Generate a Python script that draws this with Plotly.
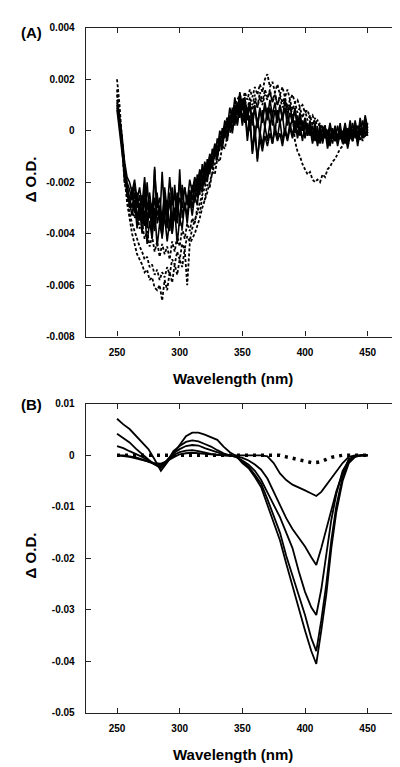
import plotly.graph_objects as go

W, H = 400, 767

# ---------------- Panel (A) data : wavelength (nm) and ΔO.D. in units of 1e-4 ----------------
A_SCALE = 1e-4
wl_a = list(range(250, 452, 2))

a_solid_1 = [12, 6, -2, -12, -18, -20, -24, -19, -27, -22,
             -29, -18, -31, -24, -33, -15, -30, -26, -35, -22,
             -31, -18, -29, -25, -32, -20, -27, -22, -28, -19,
             -24, -18, -22, -15, -19, -13, -16, -10, -12, -6,
             -9, -3, -5, 2, -1, 5, 3, 10, 6, 14,
             8, 12, 4, 10, 2, 9, 1, 8, 3, 10,
             4, 9, 2, 8, 3, 10, 4, 9, 2, 7,
             3, 8, 1, 6, 0, 5, -1, 3, -3, 2,
             -4, 1, -5, 0, -4, 2, -3, 1, -5, 3,
             -4, 2, -3, 4, -2, 3, -3, 5, -1, 6,
             1]
a_solid_2 = [10, 2, -8, -16, -22, -26, -30, -24, -34, -28,
             -36, -26, -38, -30, -40, -14, -36, -32, -42, -28,
             -38, -24, -40, -30, -36, -15, -34, -28, -33, -24,
             -30, -22, -26, -18, -22, -14, -18, -10, -14, -6,
             -10, -2, -5, 2, -2, 6, 0, 8, 3, 12,
             4, 10, -2, 6, -8, 2, -12, 0, -6, 2,
             -4, 3, -5, 2, -3, 4, -4, 1, -3, 3,
             -2, 4, -3, 2, -4, 3, -2, 1, -5, 0,
             -6, -1, -4, 0, -7, -2, -5, 1, -6, -1,
             -5, 0, -7, -2, -4, 1, -6, 0, -3, 2,
             -2]
a_solid_3 = [11, 4, -4, -14, -20, -23, -27, -21, -30, -25,
             -33, -22, -35, -27, -37, -26, -33, -29, -38, -24,
             -34, -27, -36, -21, -33, -26, -30, -22, -29, -23,
             -27, -20, -24, -16, -20, -12, -16, -9, -12, -5,
             -8, 0, -3, 4, 1, 9, 4, 13, 7, 15,
             9, 13, 5, 11, 3, 10, 2, 9, 4, 11,
             5, 12, 6, 11, 4, 10, 5, 12, 6, 10,
             4, 9, 2, 7, 0, 5, -1, 4, -2, 3,
             -3, 2, -4, 1, -2, 3, -3, 2, -4, 1,
             -2, 3, -3, 2, -4, 4, -2, 3, -1, 5,
             0]
a_solid_4 = [8, 0, -10, -18, -25, -28, -33, -27, -38, -30,
             -40, -31, -44, -35, -42, -30, -45, -36, -41, -33,
             -43, -35, -40, -30, -44, -34, -38, -28, -36, -26,
             -33, -25, -29, -20, -24, -16, -20, -12, -15, -8,
             -11, -4, -7, 0, -4, 4, -1, 7, 2, 10,
             2, 8, -4, 4, -9, -1, -11, -3, -8, -2,
             -6, -1, -5, 0, -4, -1, -6, 0, -4, 1,
             -3, 2, -1, 4, 0, 3, -2, 2, -3, 1,
             -4, 0, -2, 2, -5, -1, -3, 1, -2, 0,
             -4, -1, -5, 0, -3, 2, -4, 1, -2, 3,
             -1]
a_solid_5 = [9, 3, -6, -20, -21, -30, -22, -32, -24, -35,
             -25, -37, -20, -34, -28, -39, -24, -36, -16, -33,
             -27, -39, -22, -35, -24, -37, -21, -31, -25, -30,
             -21, -28, -17, -25, -13, -21, -11, -17, -7, -11,
             -3, -7, 1, -3, 5, 0, 9, 2, 11, 5,
             12, 3, 9, 0, 7, -3, 5, -2, 8, 1,
             9, 2, 7, -1, 8, 3, 6, -2, 7, 1,
             5, -1, 6, -2, 4, -3, 3, -2, 2, -4,
             1, -5, 2, -3, 0, -6, 1, -4, 2, -3,
             0, -5, 1, -2, 3, -3, 2, -1, 4, -2,
             3]
a_dash_1 = [20, 10, -4, -18, -28, -34, -40, -44, -48, -50,
            -52, -55, -54, -58, -57, -61, -62, -60, -66, -58,
            -62, -55, -59, -52, -56, -50, -53, -46, -60, -44,
            -42, -40, -37, -34, -30, -27, -24, -20, -16, -13,
            -10, -7, -4, -1, 2, 5, 7, 10, 12, 14,
            11, 15, 12, 16, 13, 17, 14, 18, 15, 20,
            22, 17, 19, 15, 18, 14, 17, 13, 16, 12,
            14, 11, 12, 9, 10, 7, 8, 5, 6, 3,
            4, 1, 2, -1, 0, -3, -1, -4, -2, -3,
            -1, -4, 0, -3, 1, -2, 0, -4, -1, -2,
            -1]
a_dash_2 = [16, 6, -6, -20, -27, -32, -36, -39, -42, -45,
            -47, -50, -49, -53, -52, -56, -54, -58, -55, -57,
            -53, -56, -50, -52, -47, -50, -44, -46, -41, -43,
            -38, -35, -32, -28, -25, -22, -18, -15, -11, -9,
            -6, -3, 0, 2, 5, 3, 8, 6, 10, 7,
            9, 12, 8, 13, 10, 14, 9, 15, 11, 16,
            13, 15, 11, 14, 10, 13, 9, 12, 8, 10,
            6, -4, -8, -10, -13, -15, -17, -16, -19, -20,
            -19, -20, -17, -18, -15, -14, -12, -11, -9, -7,
            -6, -3, -6, -2, -4, -1, -3, 0, -2, 1,
            -1]
a_dash_3 = [14, 5, -5, -15, -22, -27, -30, -34, -32, -38,
            -36, -42, -39, -45, -41, -47, -43, -49, -44, -48,
            -45, -50, -43, -47, -41, -45, -38, -42, -36, -39,
            -34, -36, -30, -32, -26, -27, -21, -22, -16, -17,
            -11, -12, -6, -7, -2, -1, 3, 4, 7, 8,
            6, 10, 7, 11, 8, 12, 9, 13, 10, 14,
            12, 16, 11, 15, 10, 14, 11, 13, 9, 12,
            8, 11, 7, 9, 5, 8, 4, 6, 2, 5,
            1, 3, -1, 2, -2, 0, -3, -1, -4, -2,
            -3, 0, -4, -1, -2, 1, -3, 0, -4, -1,
            -2]

# ---------------- Panel (B) data : wavelength (nm) and ΔO.D. ----------------
wl_b = [250, 255, 260, 265, 270, 275, 280, 285, 290, 295,
        300, 305, 310, 315, 320, 325, 330, 335, 340, 345,
        350, 355, 360, 365, 370, 375, 380, 385, 390, 395,
        400, 405, 409, 413, 417, 421, 425, 430, 435, 440,
        445, 450]

b_curve_1 = [0.0, -0.0001, -0.0003, -0.0006, -0.0009, -0.0012, -0.0015, -0.0016, -0.0011, -0.0004,
             0.0002, 0.0004, 0.0005, 0.0004, 0.0003, 0.0001, 0.0, 0.0, 0.0, 0.0,
             0.0, 0.0, 0.0, 0.0, -0.0002, -0.0015, -0.0035, -0.0048, -0.0057, -0.0062,
             -0.0068, -0.0074, -0.0079, -0.0071, -0.0058, -0.0043, -0.003, -0.0015, -0.0003, 0.0,
             0.0, 0.0]
b_curve_2 = [0.0, 0.0, -0.0002, -0.0004, -0.0008, -0.0012, -0.0017, -0.0019, -0.0011, 0.0,
             0.0006, 0.0009, 0.001, 0.0008, 0.0005, 0.0003, 0.0001, 0.0, 0.0, -0.0002,
             -0.0005, -0.001, -0.0018, -0.0028, -0.0045, -0.007, -0.0097, -0.0122, -0.0143, -0.016,
             -0.0177, -0.0198, -0.0213, -0.018, -0.0145, -0.0108, -0.007, -0.0035, -0.0007, -0.0002,
             0.0, 0.0]
b_curve_3 = [0.0018, 0.0014, 0.0008, 0.0003, -0.0003, -0.001, -0.0017, -0.0022, -0.001, 0.0004,
             0.0012, 0.0018, 0.002, 0.0019, 0.0014, 0.001, 0.0005, 0.0002, 0.0, -0.0003,
             -0.001, -0.0018, -0.003, -0.0048, -0.0072, -0.0095, -0.012, -0.015, -0.018, -0.0225,
             -0.0265, -0.0295, -0.031, -0.026, -0.019, -0.0125, -0.0075, -0.003, -0.001, -0.0002,
             0.0, 0.0]
b_curve_4 = [0.0042, 0.0034, 0.0025, 0.0013, 0.0002, -0.0008, -0.0018, -0.0025, -0.0012, 0.0008,
             0.0018, 0.0026, 0.0029, 0.0027, 0.0022, 0.0017, 0.001, 0.0004, 0.0, -0.0003,
             -0.0012, -0.0022, -0.0038, -0.0055, -0.0085, -0.0117, -0.015, -0.0195, -0.0235, -0.027,
             -0.031, -0.0355, -0.038, -0.032, -0.025, -0.0165, -0.0098, -0.0042, -0.0012, -0.0002,
             0.0, 0.0]
b_curve_5 = [0.0071, 0.006, 0.0051, 0.0038, 0.0026, 0.0012, -0.0008, -0.003, -0.0014, 0.0003,
             0.0018, 0.0037, 0.0044, 0.0044, 0.004, 0.0035, 0.003, 0.0017, 0.0006, -0.0001,
             -0.0015, -0.0025, -0.0042, -0.0062, -0.0095, -0.013, -0.0165, -0.021, -0.0255, -0.03,
             -0.034, -0.038, -0.0405, -0.034, -0.027, -0.018, -0.011, -0.005, -0.0015, -0.0003,
             0.0, 0.0]
b_dotted = [0.0, 0.0, 0.0, 0.0, 0.0, 0.0, 0.0, 0.0, 0.0, 0.0,
            0.0, 0.0, 0.0, 0.0, 0.0, 0.0, 0.0, 0.0, 0.0, 0.0,
            0.0, 0.0, 0.0, 0.0, 0.0, 0.0, 0.0, -0.0003, -0.0006, -0.0009,
            -0.0012, -0.0014, -0.0014, -0.0012, -0.0008, -0.0004, -0.0002, 0.0, 0.0, 0.0,
            0.0, 0.0]

# ---------------- Axis tick labels ----------------
x_ticks = [250, 300, 350, 400, 450]
a_yticks = [0.004, 0.002, 0, -0.002, -0.004, -0.006, -0.008]
a_yticktext = ["0.004", "0.002", "0", "-0.002", "-0.004", "-0.006", "-0.008"]
b_yticks = [0.01, 0, -0.01, -0.02, -0.03, -0.04, -0.05]
b_yticktext = ["0.01", "0", "-0.01", "-0.02", "-0.03", "-0.04", "-0.05"]

FONT = "Liberation Sans"

fig = go.Figure()

# Panel A: dashed first, solid on top
for ys in [a_dash_1, a_dash_2, a_dash_3]:
    fig.add_trace(go.Scatter(x=wl_a, y=[v * A_SCALE for v in ys], mode="lines",
                             line=dict(color="black", width=1.8, dash="3px,2px"),
                             xaxis="x", yaxis="y", showlegend=False))
for ys in [a_solid_1, a_solid_2, a_solid_3, a_solid_4, a_solid_5]:
    fig.add_trace(go.Scatter(x=wl_a, y=[v * A_SCALE for v in ys], mode="lines",
                             line=dict(color="black", width=1.6),
                             xaxis="x", yaxis="y", showlegend=False))

# Panel B
fig.add_trace(go.Scatter(x=wl_b, y=b_dotted, mode="lines",
                         line=dict(color="black", width=3.5, dash="3px,5px"),
                         xaxis="x2", yaxis="y2", showlegend=False))
for ys in [b_curve_1, b_curve_2, b_curve_3, b_curve_4, b_curve_5]:
    fig.add_trace(go.Scatter(x=wl_b, y=ys, mode="lines",
                             line=dict(color="black", width=1.8),
                             xaxis="x2", yaxis="y2", showlegend=False))

def px_x(p):
    return p / W

def px_y(p):
    return 1 - p / H

tickfont = dict(family=FONT, size=10, color="black", weight="bold")
axis_common = dict(showline=True, linecolor="#222", linewidth=1.2, mirror="ticks",
                   ticks="inside", ticklen=5, tickwidth=1.2, tickcolor="#222",
                   showgrid=False, zeroline=False, tickfont=tickfont)

xdom = [px_x(77.7), px_x(391.0)]
fig.update_layout(
    width=W, height=H,
    margin=dict(l=0, r=0, t=0, b=0),
    paper_bgcolor="white", plot_bgcolor="white",
    xaxis=dict(domain=xdom, range=[225, 475], tickvals=x_ticks, anchor="y",
               ticklabelstandoff=6, **axis_common),
    yaxis=dict(domain=[px_y(327.7), px_y(14.0)], range=[-0.008, 0.004], anchor="x",
               tickvals=a_yticks, ticktext=a_yticktext, ticklabelstandoff=8, **axis_common),
    xaxis2=dict(domain=xdom, range=[225, 475], tickvals=x_ticks, anchor="y2",
                ticklabelstandoff=6, **axis_common),
    yaxis2=dict(domain=[px_y(710.0), px_y(396.0)], range=[-0.05, 0.01], anchor="x2",
                tickvals=b_yticks, ticktext=b_yticktext, ticklabelstandoff=8, **axis_common),
)

title_font = dict(family=FONT, size=15, color="black", weight="bold")
annos = [
    dict(text="(A)", x=px_x(23.5), y=px_y(18.5)),
    dict(text="(B)", x=px_x(23.5), y=px_y(397)),
    dict(text="Wavelength (nm)", x=px_x(225), y=px_y(370)),
    dict(text="Wavelength (nm)", x=px_x(225), y=px_y(752)),
    dict(text="Δ O.D.", x=px_x(22), y=px_y(168), textangle=-90),
    dict(text="Δ O.D.", x=px_x(22), y=px_y(550), textangle=-90),
]
for a in annos:
    fig.add_annotation(xref="paper", yref="paper", showarrow=False,
                       xanchor="center", yanchor="middle", font=title_font, **a)

fig.write_html("out.html")
